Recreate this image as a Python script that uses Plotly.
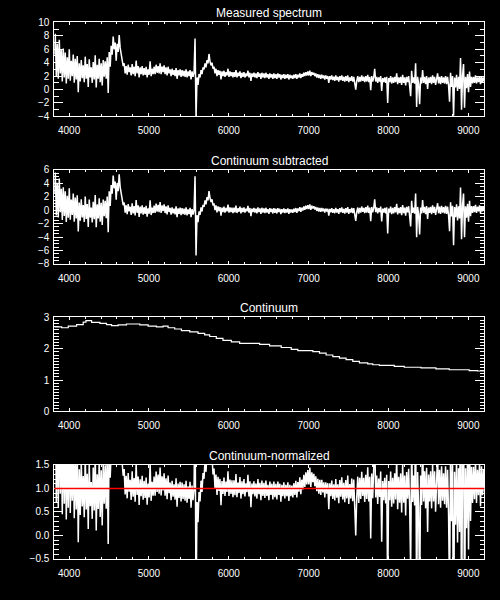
import numpy as np
import plotly.graph_objects as go

# ---------------- data ----------------
WAVE_START = 3815.0   # Angstrom, first sample
WAVE_STEP = 12.5      # Angstrom per sample

FLUX = [
    5.2, 8.3, 1.9, 6.8, 1.6, 7.4, 2.4, 5.9, 1.2, 6.1,
    1.8, 5.5, 0.9, 4.8, 1.6, 6.0, 1.3, 4.3, 2.0, 5.2,
    1.0, 4.6, 1.5, 5.0, -0.4, 3.9, 1.2, 4.4, 1.7, 3.6,
    1.1, 4.9, 1.6, 3.8, 0.4, 4.5, 1.8, 3.3, 1.0, 4.1,
    1.5, 5.1, 0.3, 3.7, 1.6, 4.6, 1.1, 3.9, 0.6, 4.4,
    1.9, 4.2, 1.6, 4.8, -0.5, 5.6, 3.4, 6.5, 5.2, 7.9,
    6.0, 7.0, 4.3, 6.8, 5.6, 8.1, 6.2, 5.0, 4.4, 3.5,
    3.9, 2.4, 3.5, 2.2, 3.7, 2.6, 3.3, 2.1, 3.8, 2.3,
    3.4, 2.0, 4.3, 2.4, 3.5, 1.8, 3.3, 2.3, 3.5, 2.1,
    3.2, 2.2, 3.4, 1.8, 3.0, 2.2, 4.2, 2.0, 3.1, 2.3,
    3.4, 2.3, 3.7, 2.5, 3.5, 2.4, 3.9, 2.3, 3.4, 2.6,
    3.6, 2.3, 3.3, 2.1, 3.4, 2.4, 3.0, 2.0, 3.1, 2.2,
    2.9, 2.0, 3.2, 1.6, 2.9, 2.1, 3.0, 1.9, 2.9, 2.0,
    2.8, 1.9, 3.0, 1.8, 2.7, 2.0, 2.9, 1.5, 2.7, 1.9,
    2.5, 7.6, -4.2, 1.8, 0.7, 2.3, 1.8, 2.9, 2.3, 3.3,
    3.0, 3.9, 3.3, 4.4, 3.9, 5.3, 4.2, 3.6, 4.0, 3.1,
    3.4, 2.4, 3.1, 2.0, 2.9, 2.2, 2.8, 1.5, 2.7, 2.0,
    2.8, 1.9, 2.6, 2.1, 3.1, 1.9, 2.7, 2.0, 2.6, 1.8,
    2.6, 1.9, 2.9, 1.8, 2.5, 2.0, 2.7, 1.7, 2.5, 1.9,
    2.6, 1.8, 2.4, 2.0, 2.8, 1.8, 2.5, 1.3, 2.4, 1.9,
    2.5, 1.8, 2.4, 1.7, 2.6, 1.9, 2.4, 1.6, 2.5, 1.8,
    2.4, 1.7, 2.5, 1.8, 2.3, 1.6, 2.4, 1.8, 2.3, 1.6,
    2.4, 1.7, 2.3, 1.6, 2.4, 1.8, 2.3, 1.5, 2.2, 1.7,
    2.3, 1.6, 2.2, 1.7, 2.3, 1.5, 2.2, 1.7, 2.1, 1.6,
    2.2, 1.7, 2.3, 1.6, 2.2, 1.8, 2.4, 1.7, 2.3, 1.9,
    2.5, 2.0, 2.6, 2.1, 2.7, 2.1, 2.8, 2.0, 2.6, 2.2,
    2.5, 2.0, 2.4, 1.8, 2.3, 1.7, 2.2, 1.6, 2.2, 1.7,
    2.1, 1.5, 2.1, 1.6, 2.0, 1.0, 2.0, 1.5, 2.1, 1.4,
    1.9, 1.3, 2.1, 1.4, 1.9, 1.2, 2.0, 1.4, 2.1, 1.3,
    1.9, 1.2, 2.0, 1.3, 2.1, 1.1, 1.8, 1.3, 2.0, 1.2,
    1.9, 1.2, 0.0, 1.3, 2.0, 1.1, 1.9, 1.2, 2.1, 1.3,
    1.9, 1.1, 2.0, 1.2, 2.2, 1.1, 1.9, -0.1, 2.0, 1.2,
    1.8, 3.1, 1.2, 1.9, 1.0, 1.8, 1.2, 2.0, -0.2, 1.7,
    1.1, 1.8, 1.0, 1.9, -2.0, 1.7, 1.1, 2.0, 0.9, 1.8,
    1.0, 1.9, 1.1, 2.4, 0.8, 1.8, 1.0, 1.9, 0.7, 2.2,
    1.0, 1.8, 0.6, 1.9, 1.1, 2.0, 0.9, -1.0, 2.8, 1.0,
    1.8, 0.9, 3.9, -2.6, 1.9, 0.8, -2.2, 1.8, 0.9, 2.9,
    1.0, 1.9, 0.8, 2.0, 0.1, 1.8, 1.0, 1.9, 0.8, 2.1,
    1.0, 1.9, 0.7, 1.8, 2.4, 0.9, 1.9, 0.8, 2.0, 1.0,
    1.8, 0.9, 2.0, 0.8, 1.9, 0.6, -1.8, 2.5, 0.4, 2.0,
    -3.9, 1.8, 0.3, 2.2, -0.2, 1.9, 0.1, 4.7, -3.0, 2.1,
    3.8, -2.7, 1.9, 0.2, 2.3, -0.4, 2.7, 0.4, 1.9, 0.9,
    1.9, 1.0, 2.1, 0.9, 1.8, 1.1, 2.0, 0.8, 1.9, 1.1,
    1.8, 1.2,
]

# continuum: staircase, each level starts at the given wavelength
CONT_WAVE = [3815, 3907, 3990, 4094, 4177, 4211, 4282, 4386, 4469, 4532,
             4615, 4719, 4886, 4990, 5094, 5177, 5240, 5323, 5407, 5511,
             5615, 5698, 5761, 5844, 5927, 6032, 6136, 6386, 6511, 6657,
             6782, 6865, 7053, 7136, 7219, 7303, 7386, 7469, 7553, 7636,
             7740, 7803, 7886, 8073, 8198, 8407, 8594, 8761, 9011, 9115]
CONT_LEVEL = [2.70, 2.67, 2.72, 2.77, 2.85, 2.90, 2.84, 2.81, 2.77, 2.74,
              2.76, 2.79, 2.76, 2.72, 2.70, 2.72, 2.67, 2.63, 2.58, 2.54,
              2.49, 2.44, 2.39, 2.33, 2.27, 2.22, 2.17, 2.14, 2.09, 2.04,
              1.98, 1.94, 1.91, 1.86, 1.80, 1.75, 1.70, 1.65, 1.60, 1.55,
              1.52, 1.49, 1.47, 1.44, 1.41, 1.39, 1.36, 1.33, 1.30, 1.29]

TITLES = ["Measured spectrum", "Continuum subtracted", "Continuum",
          "Continuum-normalized"]
X_RANGE = [3815, 9200]
Y_RANGES = [[-4, 10], [-8, 6], [0, 3], [-0.5, 1.5]]
Y_DTICK = [2, 2, 1, 0.5]
Y_MINOR = [1, 0.5, 0.1, 0.1]
NORM_LEVEL = 1.0

# ---------------- derived series ----------------
flux = np.array(FLUX, dtype=float)
wave = WAVE_START + WAVE_STEP * np.arange(len(flux))
cw = np.array(CONT_WAVE, dtype=float)
cl = np.array(CONT_LEVEL, dtype=float)
idx = np.clip(np.searchsorted(cw, wave, side="right") - 1, 0, len(cl) - 1)
cont_on_grid = cl[idx]
subtracted = flux - cont_on_grid
normalized = flux / cont_on_grid

cont_x = list(CONT_WAVE) + [X_RANGE[1]]
cont_y = list(CONT_LEVEL) + [CONT_LEVEL[-1]]

# ---------------- geometry (pixels) ----------------
W, H = 500, 600
left_px, right_px = 54.3, 484.3
tops_px = [17.7, 167.7, 317.7, 467.7]
panel_h = 95.6

FONT = "Liberation Sans"
fig = go.Figure()

series = [(wave, flux, "linear", 1.5), (wave, subtracted, "linear", 1.5),
          (cont_x, cont_y, "hv", 1.2), (wave, normalized, "linear", 1.5)]

for k in range(4):
    sfx = "" if k == 0 else str(k + 1)
    xs, ys, shape, lw = series[k]
    fig.add_trace(go.Scatter(x=xs, y=ys, mode="lines",
                             line=dict(color="white", width=lw, shape=shape),
                             xaxis="x" + sfx, yaxis="y" + sfx,
                             showlegend=False, hoverinfo="skip"))
    top = tops_px[k]
    ydom = [1 - (top + panel_h) / H, 1 - top / H]
    xdom = [left_px / W, right_px / W]
    axis_common = dict(showline=True, linecolor="white", linewidth=1,
                       mirror="allticks", ticks="inside", tickcolor="white",
                       showgrid=False, zeroline=False,
                       tickfont=dict(family=FONT, size=10, color="white"))
    xa = dict(axis_common, domain=xdom, range=X_RANGE, tickmode="linear",
              tick0=4000, dtick=1000, ticklen=3, tickwidth=1,
              ticklabelstandoff=5,
              minor=dict(dtick=200, tick0=4000, ticklen=2, ticks="inside",
                         tickcolor="white", showgrid=False))
    ya = dict(axis_common, domain=ydom, range=Y_RANGES[k], tickmode="linear",
              tick0=0, dtick=Y_DTICK[k], ticklen=9, tickwidth=1,
              ticklabelstandoff=2,
              minor=dict(dtick=Y_MINOR[k], tick0=0, ticklen=4.5,
                         ticks="inside", tickcolor="white", showgrid=False))
    if k == 3:
        ya["tickformat"] = ".1f"
    if k > 0:
        xa["anchor"] = "y" + sfx
        ya["anchor"] = "x" + sfx
    fig.layout["xaxis" + sfx] = xa
    fig.layout["yaxis" + sfx] = ya
    fig.add_annotation(text=TITLES[k], xref="paper", yref="paper",
                       x=(left_px + right_px) / 2 / W,
                       y=1 - (top - 9.3) / H, xanchor="center",
                       yanchor="middle", showarrow=False,
                       font=dict(family=FONT, size=12, color="white"))

fig.add_shape(type="line", xref="x4 domain", yref="y4", x0=0, x1=1,
              y0=NORM_LEVEL, y1=NORM_LEVEL,
              line=dict(color="red", width=1.5), layer="above")

fig.update_layout(width=W, height=H, margin=dict(l=0, r=0, t=0, b=0),
                  paper_bgcolor="black", plot_bgcolor="black",
                  showlegend=False, hovermode=False)

fig.write_html("out.html",
               config={"displayModeBar": False, "staticPlot": True},
               post_script="document.body.style.margin='0';"
                           "document.body.style.background='black';"
                           "document.body.style.overflow='hidden';")
